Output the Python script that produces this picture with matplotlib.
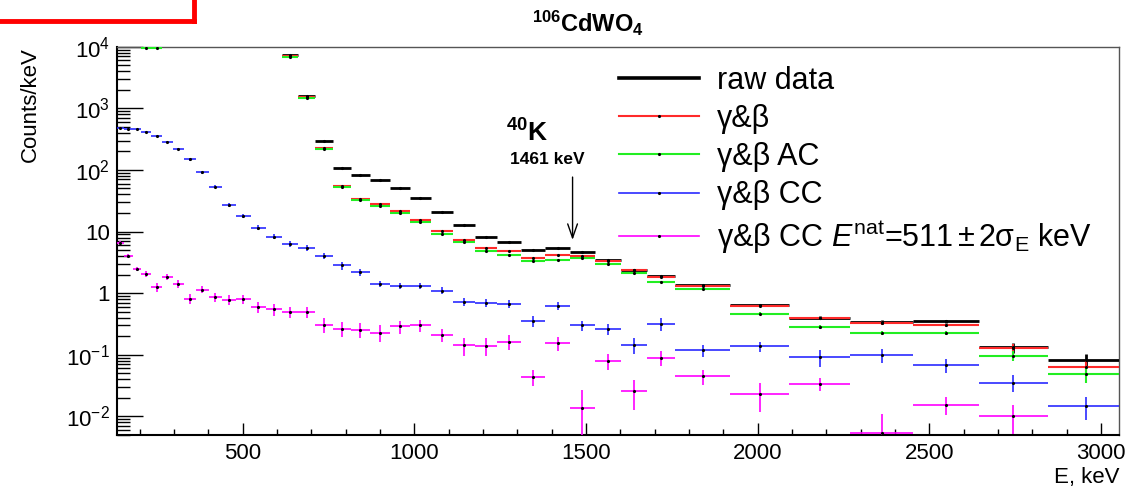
import numpy as np
import matplotlib
matplotlib.use("Agg")
import matplotlib.pyplot as plt
from matplotlib.lines import Line2D
from matplotlib.ticker import FixedLocator, NullFormatter

plt.rcParams['font.family'] = ['Liberation Sans', 'DejaVu Sans']
plt.rcParams['mathtext.fontset'] = 'custom'
plt.rcParams['mathtext.rm'] = 'Liberation Sans'
plt.rcParams['mathtext.it'] = 'Liberation Sans:italic'
plt.rcParams['mathtext.bf'] = 'Liberation Sans:bold'

nan = np.nan

# bin edges, keV
edges = [131, 154, 179, 205, 234, 265, 296, 329, 364, 401,
         440, 480, 523, 567, 614, 662, 711, 762, 815, 871,
         929, 987, 1048, 1112, 1177, 1242, 1310, 1382, 1453, 1526,
         1602, 1679, 1759, 1921, 2092, 2269, 2453, 2646, 2845, 3070]

# counts/keV per bin
raw_data = [nan] * 14 + [7400, 1590, 293, 107, 82.4, 68.4, 50.7, 34.9, 20.7, 12.9,
                         8.15, 6.76, 4.94, 5.32, 4.71, 3.45, 2.41, 1.92, 1.36, 0.644,
                         0.40, 0.345, 0.349, 0.132, 0.0836]
gb = [nan] * 14 + [7000, 1500, 228, 55, 34.4, 27.5, 21.5, 15.5, 10.4, 7.36,
                   5.4, 4.77, 3.66, 4.1, 3.95, 3.33, 2.34, 1.83, 1.33, 0.63,
                   0.39, 0.324, 0.30, 0.130, 0.0637]
gb_ac = [nan, nan, nan, 9500, 9500] + [nan] * 9 + [6890, 1455, 218, 52, 32.4, 25.9, 20.2, 14.3, 9.2, 6.65,
                                                   4.77, 4.1, 3.36, 3.49, 3.66, 3.01, 2.09, 1.54, 1.15, 0.466,
                                                   0.283, 0.226, 0.226, 0.097, 0.0483]
gb_cc = [475, 469, 458, 419, 357, 288, 217, 148, 91, 53,
         27.2, 17.8, 11.6, 8.3, 6.4, 5.4, 4.06, 2.82, 2.21, 1.43,
         1.32, 1.32, 1.10, 0.72, 0.69, 0.68, 0.35, 0.62, 0.30, 0.266,
         0.146, 0.317, 0.118, 0.137, 0.0912, 0.098, 0.0686, 0.0355, 0.0146]
gb_cc511 = [6.5, 4.06, 2.47, 2.05, 1.26, 1.83, 1.41, 0.81, 1.14, 0.87,
            0.78, 0.81, 0.60, 0.55, 0.49, 0.49, 0.31, 0.266, 0.256, 0.23,
            0.29, 0.30, 0.21, 0.143, 0.139, 0.164, 0.0438, 0.156, 0.0136, 0.0805,
            0.026, 0.090, 0.0449, 0.0235, 0.0341, 0.0054, 0.0156, 0.0102, nan]

# errors
raw_err = [0] * 33 + [0.02, 0.02, 0.025, 0.025, 0.025, 0.018]
gb_err = [0] * 33 + [0.02, 0.02, 0.025, 0.02, 0.022, 0.015]
gb_ac_err = [0] * 33 + [0.02, 0.017, 0.02, 0.018, 0.017, 0.013]
gb_cc_err = [10, 10, 10, 10, 9, 8, 7, 6, 4, 3,
             2, 1.5, 1, 0.8, 0.7, 0.6, 0.5, 0.4, 0.3, 0.17,
             0.16, 0.16, 0.14, 0.1, 0.1, 0.1, 0.07, 0.09, 0.06, 0.055,
             0.044, 0.073, 0.026, 0.027, 0.027, 0.025, 0.017, 0.011, 0.006]
gb_cc511_err = [0.4, 0.3, 0.2, 0.2, 0.2, 0.2, 0.2, 0.15, 0.15, 0.14,
                0.14, 0.14, 0.12, 0.12, 0.1, 0.1, 0.08, 0.07, 0.07, 0.07,
                0.07, 0.066, 0.049, 0.047, 0.045, 0.044, 0.013, 0.042, 0.0136, 0.023,
                0.0135, 0.025, 0.012, 0.0116, 0.008, 0.0054, 0.005, 0.005, nan]

labels = ["raw data", "γ&β", "γ&β AC", "γ&β CC",
          r"γ&β CC $\mathit{E}^{\mathrm{nat}}$=511$\,$±$\,$2σ$_{\mathrm{E}}$ keV"]

edges = np.array(edges, dtype=float)
centers = (edges[:-1] + edges[1:]) / 2
half = (edges[1:] - edges[:-1]) / 2

fig = plt.figure(figsize=(11.42, 4.86), dpi=100)
ax = fig.add_axes([0.1022, 0.105, 0.8777, 0.7989])
ax.set_yscale('log')

series = [
    (raw_data, raw_err, 'black', 2.0),
    (gb, gb_err, '#ff2a2a', 1.5),
    (gb_ac, gb_ac_err, '#22ee22', 1.5),
    (gb_cc, gb_cc_err, '#2a2aff', 1.2),
    (gb_cc511, gb_cc511_err, '#ff00ff', 1.2),
]
for vals, errs, col, lw in series:
    ax.errorbar(centers, vals, xerr=half, yerr=errs, fmt='.', ms=2.5,
                color=col, mfc='k', mec='k', elinewidth=lw, capsize=0, zorder=3)

ax.set_xlim(133, 3053)
ax.set_ylim(0.005, 1e4)

ax.xaxis.set_major_locator(FixedLocator([500, 1000, 1500, 2000, 2500, 3000]))
ax.xaxis.set_minor_locator(FixedLocator(np.arange(200, 3100, 100)))
ax.set_xticklabels(['500', '1000', '1500', '2000', '2500', '3000'])
ax.yaxis.set_major_locator(FixedLocator([1e-2, 1e-1, 1, 10, 1e2, 1e3, 1e4]))
ax.set_yticklabels([r'$10^{-2}$', r'$10^{-1}$', '1', '10', r'$10^{2}$', r'$10^{3}$', r'$10^{4}$'])
yminor = [m * 10.0 ** d for d in range(-3, 4) for m in range(2, 10)]
ax.yaxis.set_minor_locator(FixedLocator(yminor))
ax.yaxis.set_minor_formatter(NullFormatter())

ax.tick_params(axis='both', which='both', direction='in', top=False, right=False,
               labelsize=16, width=1.0, color='black')
ax.tick_params(axis='x', which='major', length=8.6, pad=6)
ax.tick_params(axis='x', which='minor', length=4.3)
ax.tick_params(axis='y', which='major', length=18.5, pad=5)
ax.tick_params(axis='y', which='minor', length=9.4)

for s in ['left', 'bottom']:
    ax.spines[s].set_linewidth(1.5)
for s in ['top', 'right']:
    ax.spines[s].set_linewidth(1.0)
    ax.spines[s].set_color('#555555')

ax.set_ylabel('Counts/keV', fontsize=16, loc='top', labelpad=18)
ax.set_xlabel('E, keV', fontsize=16, loc='right', labelpad=2)

fig.text(0.515, 0.951, r'$\mathbf{^{106}CdWO_{4}}$', fontsize=17,
         ha='center', va='center')

# 40K line marker
ax.annotate('', xy=(1461, 6.6), xytext=(1461, 85),
            arrowprops=dict(arrowstyle='->,head_width=0.35,head_length=1.0', color='black', lw=1.0))
ax.text(1330, 400, r'$\mathbf{^{40}K}$', fontsize=19, ha='center', va='center')
ax.text(1387, 146, '1461 keV', fontsize=12.5, fontweight='bold', ha='center', va='center')

handles = [Line2D([], [], color='black', lw=2.6)]
for _, _, col, lw in series[1:]:
    handles.append(Line2D([], [], color=col, lw=lw, marker='.', ms=2.5, mfc='k', mec='k'))
leg = ax.legend(handles, labels, loc='upper left', bbox_to_anchor=(0.489, 0.983),
                frameon=False, fontsize=22, handlelength=2.6, handletextpad=0.6,
                labelspacing=0.27, numpoints=1, borderaxespad=0)

# red highlight box fragment in the top-left corner
fig.add_artist(Line2D([0, 0.1698], [1 - 21 / 486, 1 - 21 / 486], color='red', lw=3.5,
                      transform=fig.transFigure))
fig.add_artist(Line2D([0.1698, 0.1698], [1.0, 1 - 21 / 486], color='red', lw=3.5,
                      transform=fig.transFigure))

fig.savefig('out.png', dpi=100)
